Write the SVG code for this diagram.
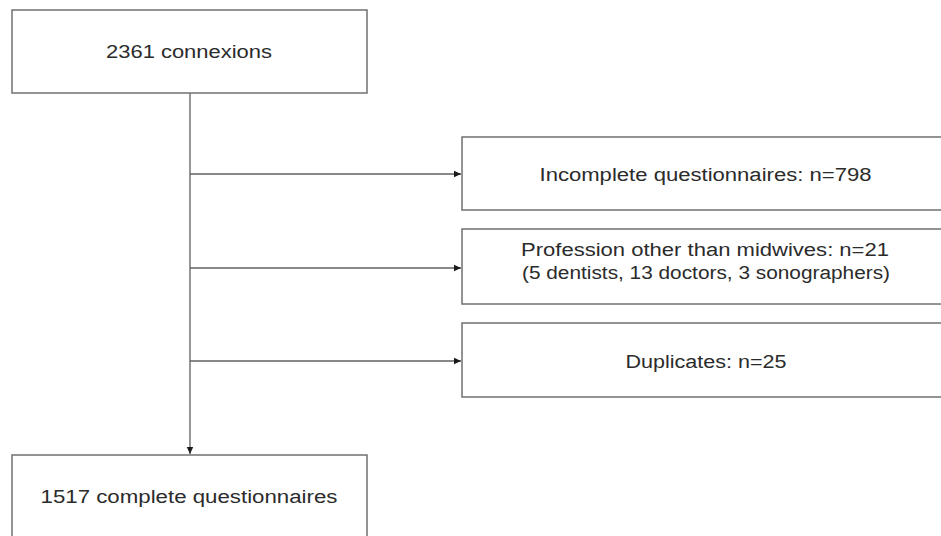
<svg xmlns="http://www.w3.org/2000/svg" width="941" height="536" viewBox="0 0 941 536">
  <style>
    .box { fill: #ffffff; stroke: #707070; stroke-width: 1.5; }
    .lbl { font-family: "Liberation Sans", Arial, sans-serif; font-size: 18px; fill: #2b2b2b; text-anchor: middle; }
    .con { fill: none; stroke: #606060; stroke-width: 1.3; }
  </style>
  <defs>
    <marker id="arr" markerWidth="8" markerHeight="8" refX="7" refY="4" orient="auto" markerUnits="userSpaceOnUse">
      <path d="M0,0.8 L7,4 L0,7.2 Z" fill="#1a1a1a"/>
    </marker>
  </defs>
  <rect width="941" height="536" fill="#ffffff"/>
  <g id="connectors">
    <line class="con" x1="190" y1="93" x2="190" y2="454" marker-end="url(#arr)"/>
    <line class="con" x1="190" y1="174" x2="461" y2="174" marker-end="url(#arr)"/>
    <line class="con" x1="190" y1="268" x2="461" y2="268" marker-end="url(#arr)"/>
    <line class="con" x1="190" y1="361" x2="461" y2="361" marker-end="url(#arr)"/>
  </g>
  <g id="n-connexions">
    <rect class="box" x="12" y="10" width="355" height="83"/>
    <text class="lbl" x="189" y="58" textLength="166" lengthAdjust="spacingAndGlyphs">2361 connexions</text>
  </g>
  <g id="n-incomplete">
    <rect class="box" x="462" y="137" width="490" height="73"/>
    <text class="lbl" x="705.5" y="181" textLength="332" lengthAdjust="spacingAndGlyphs">Incomplete questionnaires: n=798</text>
  </g>
  <g id="n-profession">
    <rect class="box" x="462" y="229" width="490" height="75"/>
    <text class="lbl" x="705" y="256" textLength="368" lengthAdjust="spacingAndGlyphs">Profession other than midwives: n=21</text>
    <text class="lbl" x="706" y="279" textLength="368" lengthAdjust="spacingAndGlyphs">(5 dentists, 13 doctors, 3 sonographers)</text>
  </g>
  <g id="n-duplicates">
    <rect class="box" x="462" y="323" width="490" height="74"/>
    <text class="lbl" x="706" y="368" textLength="161" lengthAdjust="spacingAndGlyphs">Duplicates: n=25</text>
  </g>
  <g id="n-complete">
    <rect class="box" x="12" y="455" width="355" height="100"/>
    <text class="lbl" x="189" y="503" textLength="297" lengthAdjust="spacingAndGlyphs">1517 complete questionnaires</text>
  </g>
</svg>
